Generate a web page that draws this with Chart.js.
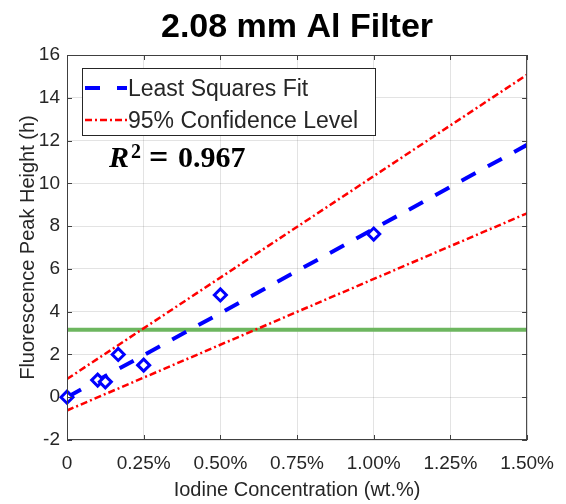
<!DOCTYPE html>
<html>
<head>
<meta charset="utf-8">
<script src="https://cdn.jsdelivr.net/npm/chart.js@4"></script>
<style>
html,body{margin:0;padding:0;background:#fff;}
#wrap{width:566px;height:504px;position:relative;}
</style>
</head>
<body>
<div id="wrap"><canvas id="c" width="566" height="504"></canvas></div>
<script>
// ---- data ----
const chartTitle = "2.08 mm Al Filter";
const concentrations = [0, 0.1, 0.125, 0.167, 0.25, 0.5, 1.0];
const peakHeights = [0, 0.8, 0.72, 2.0, 1.5, 4.78, 7.63];
const lineX = [0, 1.5];
const fitY = [0.0, 11.8];
const upperY = [0.85, 15.08];
const lowerY = [-0.62, 8.6];
const thresholdY = [3.15, 3.15];
const xTickValues = [0, 0.25, 0.5, 0.75, 1.0, 1.25, 1.5];
const xTickLabels = ["0", "0.25%", "0.50%", "0.75%", "1.00%", "1.25%", "1.50%"];
const yTickValues = [-2, 0, 2, 4, 6, 8, 10, 12, 14, 16];
const legendLabels = ["Least Squares Fit", "95% Confidence Level"];
const r2Value = "0.967";
const xTitle = "Iodine Concentration (wt.%)";
const yTitle = "Fluorescence Peak Height (h)";

const TXT = '#262626';
const pts = (xs, ys) => xs.map((x, i) => ({x: x, y: ys[i]}));

const decorPlugin = {
  id: 'decor',
  afterDraw(chart) {
    const ctx = chart.ctx;
    const a = chart.chartArea;
    const xs = chart.scales.x, ys = chart.scales.y;
    ctx.save();
    // box
    ctx.strokeStyle = '#404040';
    ctx.lineWidth = 1;
    ctx.strokeRect(a.left + 0.5, a.top + 0.5, a.right - a.left - 1, a.bottom - a.top - 1);
    // inward ticks
    ctx.beginPath();
    xTickValues.forEach(v => {
      const px = Math.round(xs.getPixelForValue(v)) + 0.5;
      ctx.moveTo(px, a.bottom); ctx.lineTo(px, a.bottom - 5);
      ctx.moveTo(px, a.top); ctx.lineTo(px, a.top + 5);
    });
    yTickValues.forEach(v => {
      const py = Math.round(ys.getPixelForValue(v)) + 0.5;
      ctx.moveTo(a.left, py); ctx.lineTo(a.left + 5, py);
      ctx.moveTo(a.right, py); ctx.lineTo(a.right - 5, py);
    });
    ctx.stroke();

    // title
    ctx.fillStyle = '#000';
    ctx.font = 'bold 34px "Liberation Sans", Arial, sans-serif';
    ctx.textAlign = 'center';
    ctx.textBaseline = 'alphabetic';
    ctx.fillText(chartTitle, (a.left + a.right) / 2, 37);

    // legend
    const lx = 82, ly = 68, lw = 293, lh = 67;
    ctx.fillStyle = '#fff';
    ctx.fillRect(lx, ly, lw, lh);
    ctx.strokeStyle = TXT;
    ctx.lineWidth = 1;
    ctx.strokeRect(lx + 0.5, ly + 0.5, lw, lh);
    // sample lines
    ctx.lineCap = 'butt';
    ctx.strokeStyle = '#0000ff';
    ctx.lineWidth = 4;
    ctx.setLineDash([15, 17]);
    ctx.beginPath(); ctx.moveTo(85, 88); ctx.lineTo(127, 88); ctx.stroke();
    ctx.strokeStyle = '#ff0000';
    ctx.lineWidth = 2.5;
    ctx.setLineDash([7, 3, 2, 3]);
    ctx.beginPath(); ctx.moveTo(85, 120); ctx.lineTo(127, 120); ctx.stroke();
    ctx.setLineDash([]);
    ctx.fillStyle = TXT;
    ctx.font = '23px "Liberation Sans", Arial, sans-serif';
    ctx.textAlign = 'left';
    ctx.textBaseline = 'alphabetic';
    ctx.fillText(legendLabels[0], 128, 96);
    ctx.fillText(legendLabels[1], 128, 128);

    // R^2 annotation
    ctx.fillStyle = '#000';
    ctx.font = 'italic bold 30px "Liberation Serif", serif';
    ctx.fillText('R', 109, 167);
    ctx.font = 'bold 20px "Liberation Serif", serif';
    ctx.fillText('2', 131, 158);
    ctx.font = 'bold 34px "Liberation Serif", serif';
    ctx.fillText('=', 149, 168);
    ctx.font = 'bold 30px "Liberation Serif", serif';
    ctx.fillText(r2Value, 178, 167);
    ctx.restore();
  }
};

new Chart(document.getElementById('c'), {
  type: 'scatter',
  data: {
    datasets: [
      {
        label: 'Data',
        data: pts(concentrations, peakHeights),
        pointStyle: 'rectRot',
        pointRadius: 6,
        pointBorderWidth: 3,
        borderColor: '#0000ff',
        backgroundColor: '#ffffff',
        showLine: false,
        clip: false
      },
      {
        label: legendLabels[0],
        data: pts(lineX, fitY),
        showLine: true,
        borderColor: '#0000ff',
        borderWidth: 4,
        borderDash: [16, 14],
        pointRadius: 0,
        fill: false
      },
      {
        label: legendLabels[1],
        data: pts(lineX, upperY),
        showLine: true,
        borderColor: '#ff0000',
        borderWidth: 2.5,
        borderDash: [7, 3, 2, 3],
        pointRadius: 0,
        fill: false
      },
      {
        label: legendLabels[1] + ' (lower)',
        data: pts(lineX, lowerY),
        showLine: true,
        borderColor: '#ff0000',
        borderWidth: 2.5,
        borderDash: [7, 3, 2, 3],
        pointRadius: 0,
        fill: false
      },
      {
        label: 'Threshold',
        data: pts(lineX, thresholdY),
        showLine: true,
        borderColor: '#6db65f',
        borderWidth: 4,
        pointRadius: 0,
        fill: false
      }
    ]
  },
  options: {
    responsive: false,
    animation: false,
    events: [],
    layout: {padding: {left: 0, right: 29, top: 55, bottom: 0}},
    plugins: {legend: {display: false}, tooltip: {enabled: false}, title: {display: false}},
    scales: {
      x: {
        type: 'linear',
        min: 0, max: 1.5,
        afterBuildTicks(s) { s.ticks = xTickValues.map(v => ({value: v})); },
        afterFit(s) { s.height = 64; },
        ticks: {
          color: TXT,
          font: {family: '"Liberation Sans", Arial, sans-serif', size: 19},
          padding: 12,
          maxRotation: 0,
          autoSkip: false,
          callback: (v) => { const i = xTickValues.indexOf(v); return i >= 0 ? xTickLabels[i] : ''; }
        },
        grid: {color: 'rgba(38,38,38,0.13)', drawTicks: false},
        border: {display: false},
        title: {
          display: true, text: xTitle, color: TXT,
          font: {family: '"Liberation Sans", Arial, sans-serif', size: 20},
          padding: {top: 0, bottom: 2}
        }
      },
      y: {
        type: 'linear',
        min: -2, max: 16,
        afterBuildTicks(s) { s.ticks = yTickValues.map(v => ({value: v})); },
        afterFit(s) { s.width = 67; },
        ticks: {
          color: TXT,
          font: {family: '"Liberation Sans", Arial, sans-serif', size: 19},
          padding: 7,
          autoSkip: false,
          callback: (v) => String(v)
        },
        grid: {color: 'rgba(38,38,38,0.13)', drawTicks: false},
        border: {display: false},
        title: {
          display: true, text: yTitle, color: TXT,
          font: {family: '"Liberation Sans", Arial, sans-serif', size: 20},
          padding: {top: 16, bottom: 0}
        }
      }
    }
  },
  plugins: [decorPlugin]
});
</script>
</body>
</html>
